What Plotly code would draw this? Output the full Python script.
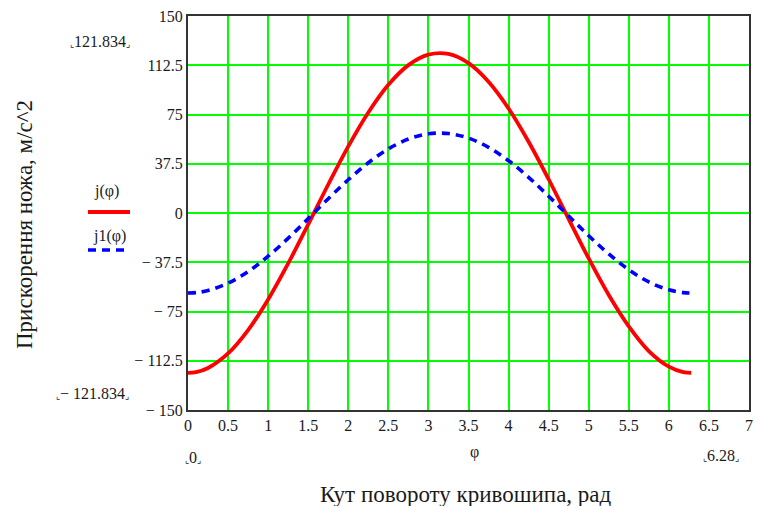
import plotly.graph_objects as go

# Angle of the crank, rad
phi = [0, 0.1, 0.25, 0.5, 0.75, 1.0, 1.25, 1.5, 1.75, 2.0, 2.25, 2.5, 2.75, 3.0,
       3.25, 3.5, 3.75, 4.0, 4.25, 4.5, 4.75, 5.0, 5.25, 5.5, 5.75, 6.0, 6.18, 6.28]
# j(phi), m/s^2
j_vals = [-121.8, -121.2, -118.0, -106.9, -89.1, -65.8, -38.4, -8.6, 21.7, 50.7, 76.5,
          97.6, 112.6, 120.6, 121.1, 114.1, 100.0, 79.6, 54.3, 25.7, -4.6, -34.6,
          -62.4, -86.3, -105.1, -117.0, -121.2, -121.8]
# j1(phi), m/s^2
j1_vals = [-60.9, -60.6, -59.0, -53.4, -44.6, -32.9, -19.2, -4.3, 10.9, 25.3, 38.3,
           48.8, 56.3, 60.3, 60.5, 57.0, 50.0, 39.8, 27.2, 12.8, -2.3, -17.3,
           -31.2, -43.2, -52.5, -58.5, -60.6, -60.9]

x_ticks = [0, 0.5, 1, 1.5, 2, 2.5, 3, 3.5, 4, 4.5, 5, 5.5, 6, 6.5, 7]
x_tick_text = ["0", "0.5", "1", "1.5", "2", "2.5", "3", "3.5", "4", "4.5",
               "5", "5.5", "6", "6.5", "7"]
y_ticks = [-150, -112.5, -75, -37.5, 0, 37.5, 75, 112.5, 150]
y_tick_text = ["\u2212 150", "\u2212 112.5", "\u2212 75", "\u2212 37.5", "0",
               "37.5", "75", "112.5", "150"]

FONT = "Liberation Serif, Times New Roman, serif"
TXT = "#1a1a1a"

fig = go.Figure()
fig.add_trace(go.Scatter(x=phi, y=j_vals, mode="lines", name="j(φ)",
                         line=dict(color="#ff0000", width=3.8, shape="spline"),
                         showlegend=False))
fig.add_trace(go.Scatter(x=phi, y=j1_vals, mode="lines", name="j1(φ)",
                         line=dict(color="#0000ff", width=3.6, shape="spline",
                                   dash="8px,6px"),
                         showlegend=False))

W, H = 757, 506
L, R, T, B = 188, 8, 16, 96
pw, ph = W - L - R, H - T - B


def px(xp):
    return (xp - L) / pw


def py(yp):
    return (H - B - yp) / ph


def br(s):
    sm = "<span style='font-size:9px'>"
    return sm + "⌞</span>" + s + sm + "⌟</span>"


annotations = [
    dict(text=br("121.834"), x=px(100), y=py(42)),
    dict(text=br("\u2212 121.834"), x=px(92), y=py(393)),
    dict(text=br("0"), x=px(193), y=py(457)),
    dict(text=br("6.28"), x=px(721), y=py(455)),
    dict(text="φ", x=px(474), y=py(452)),
    dict(text="Кут повороту кривошипа, рад", x=px(466), y=py(494),
         font=dict(size=23, family=FONT, color=TXT)),
    dict(text="Прискорення ножа, м/с^2", x=px(24), y=py(225), textangle=-90,
         font=dict(size=23, family=FONT, color=TXT)),
    dict(text="j(φ)", x=px(106), y=py(191)),
    dict(text="j1(φ)", x=px(109), y=py(236)),
]
for a in annotations:
    a.setdefault("font", dict(size=16, family=FONT, color=TXT))
    a.update(xref="paper", yref="paper", showarrow=False,
             xanchor="center", yanchor="middle")

shapes = [
    dict(type="line", xref="paper", yref="paper", x0=px(88), x1=px(130),
         y0=py(212), y1=py(212), line=dict(color="#ff0000", width=3.8)),
    dict(type="line", xref="paper", yref="paper", x0=px(88), x1=px(130),
         y0=py(250), y1=py(250), line=dict(color="#0000ff", width=3.6, dash="8px,6px")),
]

fig.update_layout(
    width=W, height=H,
    margin=dict(l=L, r=R, t=T, b=B, pad=0, autoexpand=False),
    paper_bgcolor="white", plot_bgcolor="white",
    annotations=annotations, shapes=shapes,
    font=dict(family=FONT, size=16, color=TXT),
    xaxis=dict(range=[0, 7.0001], tickvals=x_ticks, ticktext=x_tick_text,
               showgrid=True, gridcolor="#00ff00", gridwidth=1.5, automargin=False,
               zeroline=False, showline=True, linecolor="#333333", linewidth=2,
               mirror=True, ticks="", tickfont=dict(size=16, family=FONT, color=TXT)),
    yaxis=dict(range=[-150, 150], tickvals=y_ticks, ticktext=y_tick_text,
               showgrid=True, gridcolor="#00ff00", gridwidth=1.5, automargin=False,
               zeroline=False, showline=True, linecolor="#333333", linewidth=2,
               mirror=True, ticks="", tickfont=dict(size=16, family=FONT, color=TXT)),
)

fig.write_html("out.html", config={"displayModeBar": False},
               post_script="document.body.style.margin='0';document.body.style.padding='0';")
